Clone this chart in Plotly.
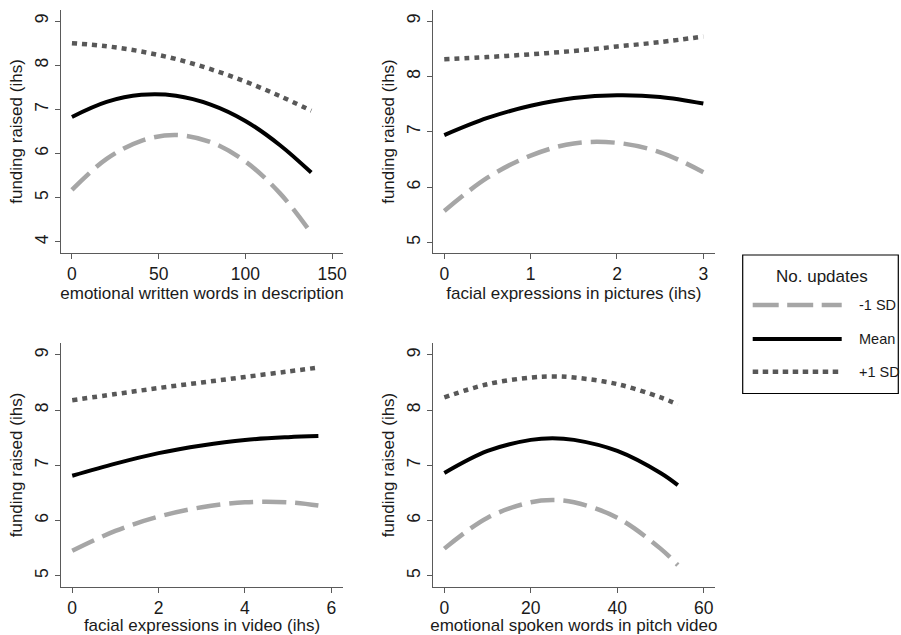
import plotly.graph_objects as go
from plotly.subplots import make_subplots

# ---------------- data ----------------
series_names = ["-1 SD", "Mean", "+1 SD"]

p1_title = "emotional written words in description"
p1_x = [0, 20, 40, 60, 80, 100, 120, 138]
p1_lo = [5.18, 5.88, 6.29, 6.42, 6.26, 5.82, 5.10, 4.20]
p1_mean = [6.83, 7.17, 7.33, 7.31, 7.11, 6.74, 6.19, 5.57]
p1_hi = [8.50, 8.43, 8.31, 8.14, 7.91, 7.63, 7.30, 6.97]
p1_ticks = [0, 50, 100, 150]
p1_yticks = [4, 5, 6, 7, 8, 9]

p2_title = "facial expressions in pictures (ihs)"
p2_x = [0, 0.5, 1, 1.5, 2, 2.5, 3]
p2_lo = [5.57, 6.17, 6.57, 6.79, 6.80, 6.63, 6.27]
p2_mean = [6.94, 7.25, 7.47, 7.61, 7.66, 7.63, 7.51]
p2_hi = [8.31, 8.35, 8.40, 8.46, 8.54, 8.62, 8.72]
p2_ticks = [0, 1, 2, 3]
p2_yticks = [5, 6, 7, 8, 9]

p3_title = "facial expressions in video (ihs)"
p3_x = [0, 1, 2, 3, 4, 5, 5.7]
p3_lo = [5.45, 5.81, 6.07, 6.24, 6.33, 6.33, 6.27]
p3_mean = [6.81, 7.03, 7.22, 7.36, 7.46, 7.51, 7.53]
p3_hi = [8.18, 8.29, 8.40, 8.50, 8.60, 8.70, 8.77]
p3_ticks = [0, 2, 4, 6]
p3_yticks = [5, 6, 7, 8, 9]

p4_title = "emotional spoken words in pitch video"
p4_x = [0, 10, 20, 25, 30, 40, 50, 54]
p4_lo = [5.49, 6.05, 6.33, 6.37, 6.33, 6.05, 5.49, 5.19]
p4_mean = [6.86, 7.26, 7.46, 7.49, 7.46, 7.26, 6.86, 6.64]
p4_hi = [8.23, 8.47, 8.59, 8.61, 8.59, 8.47, 8.23, 8.10]
p4_ticks = [0, 20, 40, 60]
p4_yticks = [5, 6, 7, 8, 9]

y_title = "funding raised (ihs)"
legend_title = "No. updates"

# ---------------- styling ----------------
FONT = "Liberation Sans, Arial, sans-serif"
TXT = "#1a1a1a"
AX = "#5a5a5a"
styles = [
    dict(color="#a6a6a6", width=4.5, dash="24px,9px"),
    dict(color="#000000", width=4, dash="solid"),
    dict(color="#585858", width=4.5, dash="5px,5px"),
]
legend_dash = ["26px,8.5px", "solid", "5.5px,4.5px"]

panels = [
    (p1_x, [p1_lo, p1_mean, p1_hi], p1_title, p1_ticks, p1_yticks, [-6.3, 156.3], [3.75, 9.25]),
    (p2_x, [p2_lo, p2_mean, p2_hi], p2_title, p2_ticks, p2_yticks, [-0.134, 3.135], [4.81, 9.2]),
    (p3_x, [p3_lo, p3_mean, p3_hi], p3_title, p3_ticks, p3_yticks, [-0.26, 6.27], [4.80, 9.21]),
    (p4_x, [p4_lo, p4_mean, p4_hi], p4_title, p4_ticks, p4_yticks, [-2.69, 62.6], [4.80, 9.21]),
]

fig = make_subplots(rows=2, cols=2)

W, H = 901, 635
xdom = [[61 / W, 343 / W], [432.7 / W, 715 / W]]
ydom = [[(H - 253) / H, (H - 10) / H], [(H - 586.7) / H, (H - 343.3) / H]]

for i, (xs, ys, xt, xticks, yticks, xr, yr) in enumerate(panels):
    r, c = i // 2 + 1, i % 2 + 1
    for j, (name, yv) in enumerate(zip(series_names, ys)):
        fig.add_trace(
            go.Scatter(
                x=xs, y=yv, mode="lines", name=name,
                line=dict(shape="spline", smoothing=1.0, **styles[j]),
                showlegend=False, legendgroup=name,
            ),
            row=r, col=c,
        )
    fig.update_xaxes(
        domain=xdom[c - 1], range=xr, tickvals=xticks,
        title=dict(text=xt, font=dict(size=17, color=TXT), standoff=0),
        row=r, col=c,
    )
    fig.update_yaxes(
        domain=ydom[r - 1], range=yr, tickvals=yticks, tickangle=-90,
        title=dict(text=y_title, font=dict(size=17, color=TXT), standoff=4),
        row=r, col=c,
    )

common = dict(
    showline=True, linecolor=AX, linewidth=1.3, ticks="outside", ticklen=5,
    tickcolor=AX, tickwidth=1.3, showgrid=False, zeroline=False,
    tickfont=dict(size=17.5, color=TXT), automargin=False,
)
fig.update_xaxes(**common)
fig.update_yaxes(**common)

# ---------------- legend box (drawn in paper space) ----------------
def px(x):
    return x / W

def py(y):
    return (H - y) / H

shapes = [
    dict(type="rect", xref="paper", yref="paper",
         x0=px(742.7), x1=px(898.3), y0=py(393.5), y1=py(255),
         line=dict(color="#000000", width=1.2), fillcolor="white", layer="below"),
]
annotations = [
    dict(text=legend_title, xref="paper", yref="paper", x=px(821.5), y=py(276),
         xanchor="center", yanchor="middle", showarrow=False,
         font=dict(size=17, color=TXT, family=FONT)),
]
leg_y = [305, 339, 371.7]
for name, st, dsh, yy in zip(series_names, styles, legend_dash, leg_y):
    shapes.append(dict(type="line", xref="paper", yref="paper",
                       x0=px(752.7), x1=px(841.7), y0=py(yy), y1=py(yy),
                       line=dict(color=st["color"], width=st["width"], dash=dsh),
                       layer="above"))
    annotations.append(dict(text=name, xref="paper", yref="paper", x=px(856.5), y=py(yy),
                            xanchor="left", yanchor="middle", showarrow=False,
                            font=dict(size=14.5, color=TXT, family=FONT)))

fig.update_layout(
    width=W, height=H,
    margin=dict(l=0, r=0, t=0, b=0),
    paper_bgcolor="white", plot_bgcolor="white",
    font=dict(family=FONT, color=TXT),
    showlegend=False,
    shapes=shapes, annotations=annotations,
)

fig.write_html(
    "out.html",
    config={"displayModeBar": False},
    post_script="document.body.style.margin='0';document.body.style.padding='0';"
                "document.body.style.overflow='hidden';",
)
